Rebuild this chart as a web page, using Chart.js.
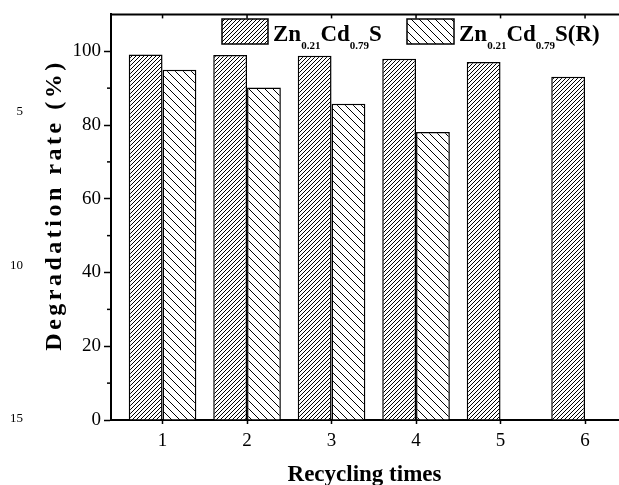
<!DOCTYPE html>
<html>
<head>
<meta charset="utf-8">
<script src="https://cdn.jsdelivr.net/npm/chart.js@4.4.1/dist/chart.umd.min.js"></script>
<style>
  html, body { margin: 0; padding: 0; background: #fff; }
</style>
</head>
<body>
<canvas id="myChart" width="619" height="485"></canvas>
<script>
// valores
const recycleTimes = [1, 2, 3, 4, 5, 6];
const rateZnCdS = [99.1, 99.0, 98.8, 98.0, 97.1, 93.1];
const rateZnCdSR = [95.0, 90.2, 85.8, 78.1, null, null];
const xTicks = [1, 2, 3, 4, 5, 6];
const yTicks = [0, 20, 40, 60, 80, 100];
const yMinorTicks = [10, 30, 50, 70, 90];
const seriesNames = ['Zn0.21Cd0.79S', 'Zn0.21Cd0.79S(R)'];
// partes del texto de la leyenda: [texto, subindice]
const legendParts = [
    [['Zn', '0.21'], ['Cd', '0.79'], ['S', '']],
    [['Zn', '0.21'], ['Cd', '0.79'], ['S(R)', '']]
];
const lineNumbers = ['5', '10', '15'];

const serif = '"Liberation Serif", "Times New Roman", serif';

const ctx = document.getElementById('myChart').getContext('2d');

// trama rayada para las barras
function hatch(size, dir) {
    const c = document.createElement('canvas');
    c.width = size;
    c.height = size;
    const g = c.getContext('2d');
    g.fillStyle = '#fff';
    g.fillRect(0, 0, size, size);
    g.strokeStyle = '#000';
    g.lineWidth = 1;
    g.beginPath();
    if (dir === '/') {
        g.moveTo(-1, size + 1); g.lineTo(size + 1, -1);
        g.moveTo(-1, 1); g.lineTo(1, -1);
        g.moveTo(size - 1, size + 1); g.lineTo(size + 1, size - 1);
    } else {
        g.moveTo(-1, -1); g.lineTo(size + 1, size + 1);
        g.moveTo(-1, size - 1); g.lineTo(1, size + 1);
        g.moveTo(size - 1, -1); g.lineTo(size + 1, 1);
    }
    g.stroke();
    return ctx.createPattern(c, 'repeat');
}

const fills = [hatch(4, '/'), hatch(8, '\\')];

// cosas que Chart.js no dibuja solo: leyenda con subindices, titulo Y, ticks menores, borde superior
const extras = {
    id: 'extras',
    afterDraw(chart) {
        const c = chart.ctx;
        const area = chart.chartArea;
        const ys = chart.scales.y;
        const xs = chart.scales.x;
        c.save();
        c.strokeStyle = '#000';

        // borde superior
        c.lineWidth = 2;
        c.beginPath();
        c.moveTo(area.left - 1, area.top);
        c.lineTo(chart.width, area.top);
        c.stroke();

        // ticks hacia dentro arriba
        c.lineWidth = 1.5;
        xTicks.forEach(v => {
            const px = xs.getPixelForValue(v);
            c.beginPath();
            c.moveTo(px, area.top);
            c.lineTo(px, area.top + 4);
            c.stroke();
        });

        // ticks menores del eje Y
        yMinorTicks.forEach(v => {
            const py = ys.getPixelForValue(v);
            c.beginPath();
            c.moveTo(area.left - 4, py);
            c.lineTo(area.left, py);
            c.stroke();
        });

        // titulo del eje Y
        c.save();
        c.translate(55, 205);
        c.rotate(-Math.PI / 2);
        c.font = 'bold 24px ' + serif;
        c.letterSpacing = '3.5px';
        c.fillStyle = '#000';
        c.textAlign = 'center';
        c.textBaseline = 'middle';
        c.fillText('Degradation rate (%)', 0, 0);
        c.restore();

        // numeros de linea del manuscrito
        c.font = '13px ' + serif;
        c.fillStyle = '#000';
        c.textAlign = 'right';
        c.textBaseline = 'middle';
        const lineY = [112, 266, 419];
        lineNumbers.forEach((t, i) => c.fillText(t, 23, lineY[i]));

        // leyenda
        const boxes = [[222, 19, 46, 25], [407, 19, 47, 25]];
        chart.data.datasets.forEach((ds, i) => {
            const b = boxes[i];
            c.fillStyle = ds.backgroundColor;
            c.fillRect(b[0], b[1], b[2], b[3]);
            c.lineWidth = 1.5;
            c.strokeRect(b[0], b[1], b[2], b[3]);
            let x = b[0] + b[2] + 5;
            c.fillStyle = '#000';
            c.textAlign = 'left';
            c.textBaseline = 'alphabetic';
            legendParts[i].forEach(p => {
                c.font = 'bold 23px ' + serif;
                c.fillText(p[0], x, 41);
                x += c.measureText(p[0]).width;
                if (p[1]) {
                    c.font = 'bold 11px ' + serif;
                    c.fillText(p[1], x, 49);
                    x += c.measureText(p[1]).width;
                }
            });
        });
        c.restore();
    }
};

new Chart(ctx, {
    type: 'bar',
    data: {
        datasets: [{
            label: seriesNames[0],
            data: recycleTimes.map((x, i) => ({ x: x, y: rateZnCdS[i] })),
            backgroundColor: fills[0],
            borderColor: '#000',
            borderWidth: 1.5,
            borderSkipped: 'start',
            categoryPercentage: 0.8,
            barPercentage: 1.0
        }, {
            label: seriesNames[1],
            data: recycleTimes.map((x, i) => ({ x: x, y: rateZnCdSR[i] })),
            backgroundColor: fills[1],
            borderColor: '#000',
            borderWidth: 1.5,
            borderSkipped: 'start',
            categoryPercentage: 0.8,
            barPercentage: 1.0
        }]
    },
    options: {
        responsive: false,
        animation: false,
        devicePixelRatio: 1,
        layout: { padding: { top: 14, right: 1, left: 0, bottom: 0 } },
        plugins: {
            legend: { display: false },
            tooltip: { enabled: false }
        },
        scales: {
            x: {
                type: 'linear',
                min: 0.39,
                max: 6.39,
                offset: false,
                afterBuildTicks: s => { s.ticks = xTicks.map(v => ({ value: v })); },
                afterFit: s => { s.height = 65; },
                grid: { offset: false, drawOnChartArea: false, tickLength: 4, tickWidth: 1.5, tickColor: '#000' },
                border: { color: '#000', width: 2 },
                ticks: { padding: 6, color: '#000', maxRotation: 0, font: { family: serif, size: 19 } },
                title: {
                    display: true,
                    text: 'Recycling times',
                    color: '#000',
                    padding: { top: 0, bottom: 0 },
                    font: { family: serif, size: 23, weight: 'bold', lineHeight: 0.9 }
                }
            },
            y: {
                min: 0,
                max: 110,
                afterBuildTicks: s => { s.ticks = yTicks.map(v => ({ value: v })); },
                afterFit: s => { s.width = 111; },
                grid: { drawOnChartArea: false, tickLength: 7, tickWidth: 1.5, tickColor: '#000' },
                border: { color: '#000', width: 2 },
                ticks: { padding: 3, color: '#000', font: { family: serif, size: 19 } }
            }
        }
    },
    plugins: [extras]
});
</script>
</body>
</html>
